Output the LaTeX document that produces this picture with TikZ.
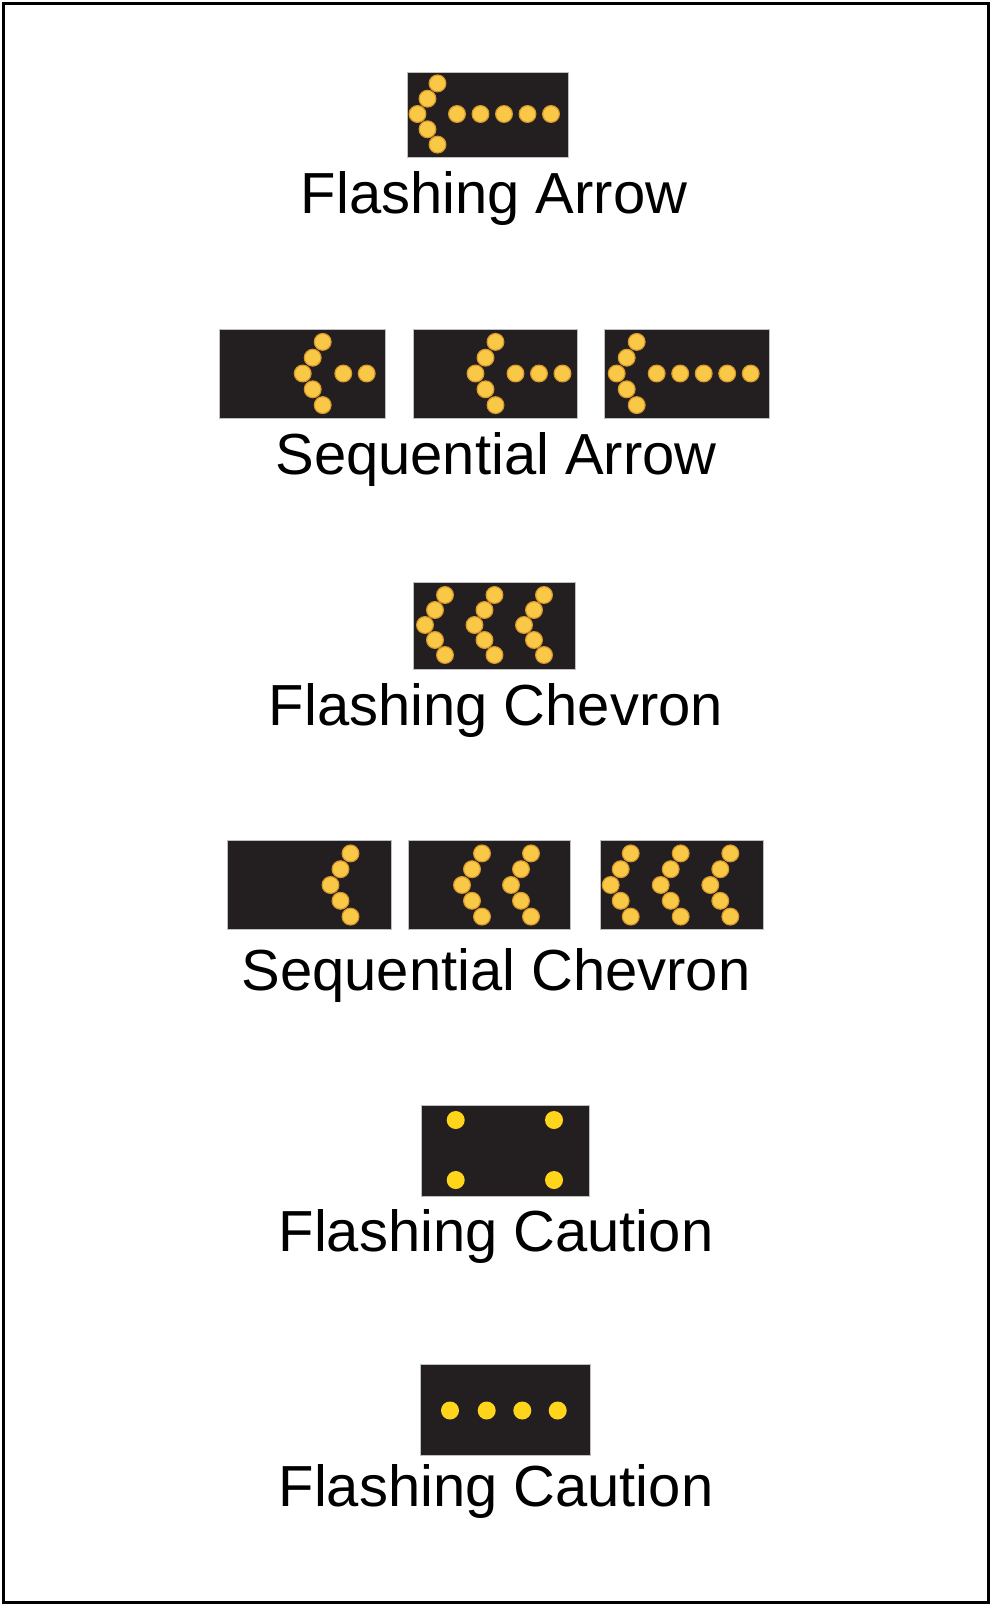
\documentclass[tikz,border=0pt]{standalone}
\usepackage{fontspec}
\setmainfont{Liberation Sans}
\usepackage{xcolor}

\definecolor{panelblack}{HTML}{231F20}
\definecolor{lampyellow}{HTML}{F9C846}
\definecolor{lamprim}{HTML}{D9982B}
\definecolor{cautionyellow}{HTML}{FFD51C}

% tip x, middle y, vertical pitch
\newcommand{\chevron}[3]{%
  \foreach \k/\dx in {-2/20,-1/10,0/0,1/10,2/20}
    \fill[lamp] ({#1+\dx},{#2+(\k)*#3}) circle (0.21cm);
}

\begin{document}
\begin{tikzpicture}[x=0.025cm, y=-0.025cm,
  panel/.style={fill=panelblack, draw=gray!50, line width=0.3pt},
  lamp/.style={fill=lampyellow, draw=lamprim, line width=0.8pt},
  caution/.style={fill=cautionyellow},
  caption/.style={anchor=base, inner sep=0pt, font=\fontsize{41.2}{48}\selectfont}]

    \useasboundingbox (0,0) rectangle (992,1606);
    \draw[line width=2.5pt] (3.3,3.3) rectangle (988.7,1602.7);

    % flashing arrow
    \draw[panel] (407,72) rectangle (568,157);
    \chevron{417.5}{114}{15.3}
    \foreach \x in {457,480.5,504,527.5,551}
        \fill[lamp] (\x,114) circle (0.21cm);
    \node[caption] (flasharrow) at (494,213.5) {Flashing Arrow};

    % sequential arrow
    \draw[panel] (219,329) rectangle (385,418);
    \chevron{302.7}{373.5}{15.8}
    \foreach \x in {343.3,366.7}
        \fill[lamp] (\x,373.5) circle (0.21cm);

    \draw[panel] (413,329) rectangle (577,418);
    \chevron{475.5}{373.5}{15.8}
    \foreach \x in {515.5,539,562.5}
        \fill[lamp] (\x,373.5) circle (0.21cm);

    \draw[panel] (604,329) rectangle (769,418);
    \chevron{616.7}{373.5}{15.8}
    \foreach \x in {656.7,680.2,703.7,727.2,750.7}
        \fill[lamp] (\x,373.5) circle (0.21cm);
    \node[caption] (seqarrow) at (496,474) {Sequential Arrow};

    % flashing chevron
    \draw[panel] (413,582) rectangle (575,669);
    \foreach \x in {425,474.5,524}
        \chevron{\x}{625}{15};
    \node[caption] (flashchevron) at (496,725) {Flashing Chevron};

    % sequential chevron
    \draw[panel] (227,840) rectangle (391,929);
    \chevron{330.5}{885}{15.8}

    \draw[panel] (408,840) rectangle (570,929);
    \foreach \x in {462,511}
        \chevron{\x}{885}{15.8};

    \draw[panel] (600,840) rectangle (763,929);
    \foreach \x in {610.7,660.7,710.3}
        \chevron{\x}{885}{15.8};
    \node[caption] (seqchevron) at (496,990) {Sequential Chevron};

    % flashing caution, four corners
    \draw[panel] (421,1105) rectangle (589,1196);
    \foreach \x in {455.7,554}
        \foreach \y in {1120,1180}
            \fill[caution] (\x,\y) circle (0.225cm);
    \node[caption] (cautioncorner) at (496,1251) {Flashing Caution};

    % flashing caution, four in a row
    \draw[panel] (420,1364) rectangle (590,1455);
    \foreach \x in {450,486.7,522.3,557.7}
        \fill[caution] (\x,1410.5) circle (0.225cm);
    \node[caption] (cautionrow) at (496,1506) {Flashing Caution};

\end{tikzpicture}
\end{document}
